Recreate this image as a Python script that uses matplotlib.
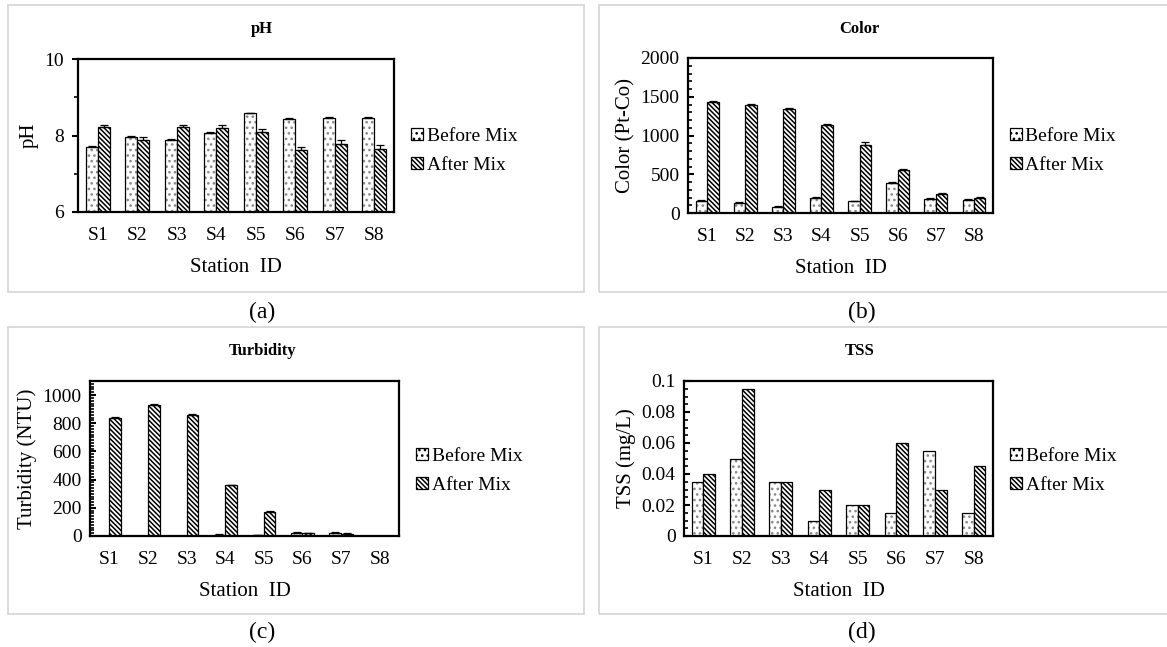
import matplotlib
matplotlib.use("Agg")
import matplotlib.pyplot as plt
from matplotlib.patches import Rectangle, Patch
from matplotlib.ticker import MultipleLocator
import numpy as np

plt.rcParams['font.family'] = ['Liberation Serif', 'DejaVu Serif']
plt.rcParams['hatch.linewidth'] = 1.1

# station ids
stations = ['S1', 'S2', 'S3', 'S4', 'S5', 'S6', 'S7', 'S8']

# pH
ph_before = [7.70, 7.95, 7.88, 8.07, 8.58, 8.43, 8.45, 8.47]
ph_after = [8.21, 7.87, 8.21, 8.19, 8.09, 7.62, 7.77, 7.65]
ph_before_err = [0.02, 0.03, 0.02, 0.02, 0.02, 0.03, 0.03, 0.02]
ph_after_err = [0.07, 0.10, 0.07, 0.08, 0.08, 0.08, 0.10, 0.10]

# color (Pt-Co)
color_before = [155, 133, 82, 189, 150, 387, 180, 168]
color_after = [1432, 1394, 1342, 1131, 873, 550, 245, 198]
color_before_err = [10, 10, 10, 12, 10, 12, 10, 10]
color_after_err = [12, 12, 12, 12, 45, 12, 10, 10]

# turbidity (NTU)
turb_before = [1, 1, 1, 9, 5, 23, 22, 1]
turb_after = [834, 927, 856, 359, 170, 20, 17, 1]
turb_before_err = [1, 1, 1, 2, 2, 3, 3, 0]
turb_after_err = [8, 8, 8, 6, 6, 3, 3, 0]

# TSS (mg/L)
tss_before = [0.035, 0.05, 0.035, 0.01, 0.02, 0.015, 0.055, 0.015]
tss_after = [0.04, 0.095, 0.035, 0.03, 0.02, 0.06, 0.03, 0.045]

W, H = 1167, 647
fig = plt.figure(figsize=(W / 100, H / 100), dpi=100)


def px_axes(l, t, r, b):
    return fig.add_axes([l / W, 1 - b / H, (r - l) / W, (b - t) / H])


def frame(l, t, r, b):
    fig.patches.append(Rectangle((l / W, 1 - b / H), (r - l) / W, (b - t) / H,
                                 transform=fig.transFigure, fill=False,
                                 edgecolor='#d4d4d4', linewidth=1.2))


DOTS = '...'
STRIPES = '\\' * 7


def draw_panel(ax, before, after, bef_err, aft_err, title, ylabel, ylim,
               major, minor, tickdir, legend_y, title_xy):
    x = np.arange(len(stations))
    w = 0.3
    ax.bar(x - w / 2, before, w, color='white', edgecolor='#8a8a8a',
           hatch=DOTS, linewidth=0)
    ax.bar(x - w / 2, before, w, fill=False, edgecolor='black', linewidth=0.9)
    ax.bar(x + w / 2, after, w, color='white', edgecolor='black',
           hatch=STRIPES, linewidth=0.9)
    if bef_err is not None:
        ax.errorbar(x - w / 2, before, yerr=[np.zeros(len(x)), bef_err],
                    fmt='none', ecolor='black', elinewidth=0.9, capsize=3,
                    capthick=0.9)
        ax.errorbar(x + w / 2, after, yerr=[np.zeros(len(x)), aft_err],
                    fmt='none', ecolor='black', elinewidth=0.9, capsize=3,
                    capthick=0.9)
    ax.set_xlim(-0.5, len(x) - 0.5)
    ax.set_ylim(*ylim)
    ax.set_xticks(x)
    ax.set_xticklabels(stations, fontsize=14)
    ax.tick_params(axis='x', length=0, pad=11)
    ax.yaxis.set_major_locator(MultipleLocator(major))
    ax.yaxis.set_minor_locator(MultipleLocator(minor))
    ax.tick_params(axis='y', which='major', direction=tickdir, length=4,
                   width=1.5, labelsize=14, pad=6)
    ax.tick_params(axis='y', which='minor', direction=tickdir, length=3,
                   width=1.2)
    for s in ax.spines.values():
        s.set_linewidth(1.6)
    ax.set_xlabel('Station  ID', fontsize=15, labelpad=10)
    ax.set_ylabel(ylabel, fontsize=15, labelpad=4)
    fig.text(title_xy[0] / W, 1 - title_xy[1] / H, title, fontsize=12,
             fontweight='bold', ha='center', va='center')
    handles = [Patch(facecolor='white', edgecolor='black', hatch=DOTS, linewidth=0.9),
               Patch(facecolor='white', edgecolor='black', hatch=STRIPES, linewidth=0.9)]
    ax.legend(handles, ['Before Mix', 'After Mix'], loc='center left',
              bbox_to_anchor=(1.03, legend_y), frameon=False, fontsize=14,
              handlelength=0.6, handleheight=0.6, handletextpad=0.2,
              labelspacing=0.6, borderaxespad=0)


# panel frames
frame(8, 5, 584, 292)
frame(599, 5, 1175, 292)
frame(8, 327, 584, 614)
frame(599, 327, 1175, 614)

# (a) pH
ax1 = px_axes(78, 59, 394, 212)
draw_panel(ax1, ph_before, ph_after, ph_before_err, ph_after_err, 'pH', 'pH',
           (6, 10), 2, 1, 'out', 0.4, (262, 29))

# (b) Color
ax2 = px_axes(688, 58, 993, 213)
draw_panel(ax2, color_before, color_after, color_before_err, color_after_err,
           'Color', 'Color (Pt-Co)', (0, 2000), 500, 100, 'in', 0.4, (859, 29))

# (c) Turbidity
ax3 = px_axes(90, 381, 399, 536)
draw_panel(ax3, turb_before, turb_after, turb_before_err, turb_after_err,
           'Turbidity', 'Turbidity (NTU)', (0, 1100), 200, 20, 'in', 0.42,
           (263, 351))

# (d) TSS
ax4 = px_axes(684, 381, 993, 536)
draw_panel(ax4, tss_before, tss_after, None, None, 'TSS', 'TSS (mg/L)',
           (0, 0.1), 0.02, 0.005, 'in', 0.42, (860, 351))
ax4.set_yticks([0, 0.02, 0.04, 0.06, 0.08, 0.1])
ax4.set_yticklabels(['0', '0.02', '0.04', '0.06', '0.08', '0.1'])

# captions
for lbl, cx, cy in [('(a)', 262, 312), ('(b)', 862, 312),
                    ('(c)', 262, 632), ('(d)', 862, 632)]:
    fig.text(cx / W, 1 - cy / H, lbl, fontsize=17, ha='center', va='center')

fig.savefig('out.png', dpi=100)
